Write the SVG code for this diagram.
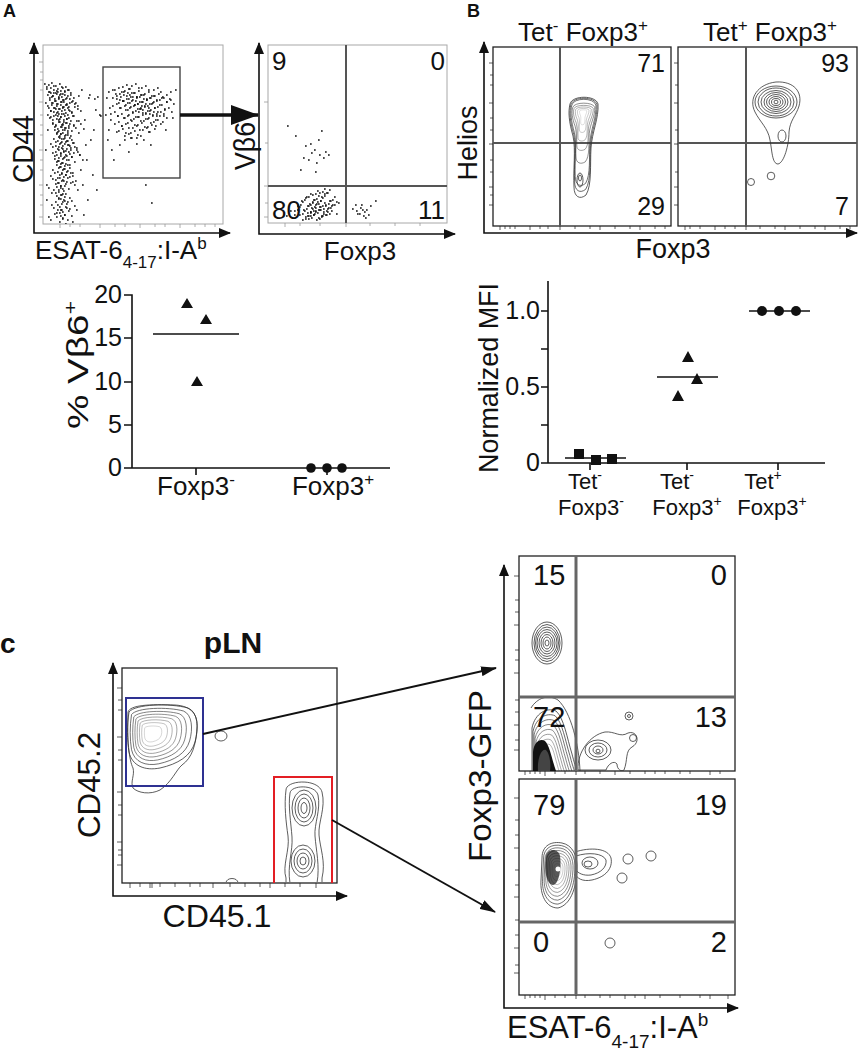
<svg xmlns="http://www.w3.org/2000/svg" xmlns:xlink="http://www.w3.org/1999/xlink" width="859" height="1050" viewBox="0 0 859 1050">
<style>
text{font-family:"Liberation Sans",Arial,Helvetica,sans-serif;fill:#111}
.b{font-weight:bold}
.ax{fill:none;stroke:#111;stroke-width:1.6}
.fg{fill:none;stroke:#a8a8a8;stroke-width:1}
.fr{fill:none;stroke:#222;stroke-width:1.3}
.q{stroke:#555;stroke-width:2}
.qc{stroke:#666;stroke-width:3}
.ct{fill:none;stroke:#333;stroke-width:0.8}
.ctn{fill:none;stroke:#333;stroke-width:0.8;vector-effect:non-scaling-stroke}
.dt{fill:none;stroke:#111;stroke-width:1.7}
.tk{fill:none;stroke:#999;stroke-width:0.8}
.tkd{fill:none;stroke:#333;stroke-width:0.8}
.ml{stroke:#111;stroke-width:1.6}
.sym{fill:#111}
</style>
<defs>
<marker id="ah" viewBox="0 0 12 10" refX="11" refY="5" markerWidth="12" markerHeight="10" markerUnits="userSpaceOnUse" orient="auto-start-reverse"><path d="M0,0L12,5L0,10Z" fill="#111"/></marker>
<marker id="big" viewBox="0 0 28 20" refX="27" refY="10" markerWidth="28" markerHeight="20" markerUnits="userSpaceOnUse" orient="auto"><path d="M0,0L28,10L0,20Z" fill="#111"/></marker>
<marker id="ca" viewBox="0 0 16 10" refX="15" refY="5" markerWidth="16" markerHeight="10" markerUnits="userSpaceOnUse" orient="auto"><path d="M0,0L16,5L0,10Z" fill="#111"/></marker>
<clipPath id="cA1"><rect x="43" y="45" width="180" height="179"/></clipPath>
<clipPath id="cA2"><rect x="268" y="45" width="179" height="178"/></clipPath>
<clipPath id="cC1"><rect x="122" y="668" width="215" height="214"/></clipPath>
<clipPath id="cC2a"><rect x="519" y="556" width="216" height="215"/></clipPath>
<clipPath id="cC2b"><rect x="519" y="779" width="216" height="216"/></clipPath>
<path id="colD" d="M46 87h1.7M50 88h1.7M53 86h1.7M57 89h1.7M61 87h1.7M64 91h1.7M48 92h1.7M55 93h1.7M59 95h1.7M67 90h1.7M52 96h1.7M62 94h1.7M70 93h1.7M49 98h1.7M54 99h1.7M58 97h1.7M63 100h1.7M66 98h1.7M71 102h1.7M51 103h1.7M56 104h1.7M60 102h1.7M65 105h1.7M68 107h1.7M53 108h1.7M58 109h1.7M62 108h1.7M74 104h1.7M47 106h1.7M64 110h1.7M69 111h1.7M57 112h1.7M50 111h1.7M77 106h1.7M55 115h1.7M60 117h1.7M63 114h1.7M66 119h1.7M52 120h1.7M58 122h1.7M61 125h1.7M65 123h1.7M68 126h1.7M54 127h1.7M57 129h1.7M62 130h1.7M70 121h1.7M73 116h1.7M49 118h1.7M59 119h1.7M64 128h1.7M67 131h1.7M56 133h1.7M60 134h1.7M75 128h1.7M80 124h1.7M58 137h1.7M61 139h1.7M64 136h1.7M66 141h1.7M55 142h1.7M59 144h1.7M62 146h1.7M67 145h1.7M70 148h1.7M57 149h1.7M63 151h1.7M60 153h1.7M65 155h1.7M68 152h1.7M54 156h1.7M58 158h1.7M62 159h1.7M71 157h1.7M73 143h1.7M76 150h1.7M52 147h1.7M66 160h1.7M69 138h1.7M79 155h1.7M56 162h1.7M60 164h1.7M64 166h1.7M58 168h1.7M62 170h1.7M66 172h1.7M54 173h1.7M59 175h1.7M63 177h1.7M67 178h1.7M61 181h1.7M57 183h1.7M65 184h1.7M60 186h1.7M69 168h1.7M72 176h1.7M52 179h1.7M62 189h1.7M58 190h1.7M74 185h1.7M55 193h1.7M60 195h1.7M64 197h1.7M58 199h1.7M62 202h1.7M57 205h1.7M66 204h1.7M53 208h1.7M61 210h1.7M59 213h1.7M64 215h1.7M56 217h1.7M62 219h1.7M50 220h1.7M68 211h1.7M71 201h1.7M48 188h1.7"/>
<path id="gateD" d="M112 90h1.7M118 88h1.7M123 92h1.7M128 89h1.7M133 93h1.7M138 91h1.7M143 95h1.7M148 92h1.7M153 96h1.7M158 94h1.7M163 98h1.7M120 97h1.7M126 99h1.7M131 101h1.7M136 98h1.7M141 102h1.7M146 100h1.7M151 104h1.7M156 101h1.7M161 105h1.7M116 104h1.7M124 106h1.7M129 108h1.7M134 105h1.7M139 109h1.7M144 107h1.7M149 111h1.7M154 108h1.7M160 112h1.7M166 95h1.7M170 100h1.7M114 112h1.7M121 114h1.7M127 116h1.7M132 113h1.7M137 117h1.7M142 115h1.7M147 119h1.7M152 116h1.7M157 120h1.7M163 114h1.7M118 122h1.7M125 124h1.7M131 121h1.7M136 126h1.7M141 123h1.7M146 128h1.7M151 125h1.7M122 129h1.7M128 134h1.7M134 131h1.7M140 136h1.7M132 97h1.7M140 95h1.7M150 98h1.7M127 93h1.7M142 110h1.7M137 104h1.7M145 104h1.7M153 112h1.7M122 101h1.7M116 96h1.7M126 85h1.7M135 84h1.7M145 86h1.7M157 88h1.7M168 108h1.7"/>
<path id="a2D" d="M300 205h1.7M304 200h1.7M308 197h1.7M312 203h1.7M316 199h1.7M320 201h1.7M324 196h1.7M328 204h1.7M332 200h1.7M306 209h1.7M310 212h1.7M314 207h1.7M318 210h1.7M322 206h1.7M326 211h1.7M330 208h1.7M334 205h1.7M302 214h1.7M308 216h1.7M313 215h1.7M317 213h1.7M321 217h1.7M325 215h1.7M329 214h1.7M305 219h1.7M311 218h1.7M319 219h1.7M315 194h1.7M322 192h1.7M327 193h1.7M297 210h1.7M310 205h1.7M318 204h1.7M323 209h1.7M313 211h1.7"/>
<path id="cbB" d="M129,712 C135,704 170,703 188,708 C198,712 199,728 195,742 C191,756 178,764 160,768 C145,771 132,766 129,752 C127,740 127,725 129,712 Z"/>
<path id="tdB" d="M570,104 C572,95 596,95 598,104 C599,118 592,132 591,148 C590,165 592,185 586,195 C580,200 574,197 574,187 C573,170 576,150 573,136 C569,122 568,112 570,104 Z"/>
<path id="c2l" d="M542,858 C542,845 552,841 562,843 C572,845 578,855 577,870 C576,890 570,905 558,908 C546,908 540,895 541,880 Z"/>
<path id="c2u" d="M532,771 L532,728 C535,713 547,707 556,711 C564,718 567,738 572,754 C574,762 576,768 577,771"/>
</defs>
<rect width="859" height="1050" fill="#fff"/>

<g id="labels">
<text x="3" y="17" font-size="18" class="b">A</text>
<text x="467" y="17" font-size="18" class="b">B</text>
<text x="0" y="653" font-size="28" class="b">c</text>
</g>

<g id="A1-scatter">
<rect class="fg" x="43" y="45" width="180" height="179"/>
<path class="tk" d="M39 62h4M40 72h3M40 80h3M40 90h3M39 102h4M40 115h3M40 125h3M40 135h3M39 150h4M40 160h3M40 170h3M39 185h4M40 195h3M40 205h3M39 217h4M60 224v4M70 224v3M80 224v3M100 224v4M115 224v3M125 224v3M140 224v4M155 224v3M165 224v3M180 224v4M195 224v3M205 224v3M215 224v3"/>
<path class="ax" d="M34,43 V233 H230" marker-start="url(#ah)" marker-end="url(#ah)"/>
<g clip-path="url(#cA1)">
<use href="#colD" class="dt"/>
<use href="#colD" class="dt" transform="translate(3,5)"/>
<use href="#colD" class="dt" transform="translate(-2,-3)"/>
<use href="#gateD" class="dt"/>
<use href="#gateD" class="dt" transform="translate(3,4)"/>
<use href="#gateD" class="dt" transform="translate(-4,2)"/>
<path class="dt" d="M84 120h1.7M88 98h1.7M90 140h1.7M86 160h1.7M92 175h1.7M95 110h1.7M97 97h1.7M82 185h1.7M87 200h1.7M96 190h1.7M93 130h1.7M99 115h1.7M85 145h1.7M89 95h1.7M94 99h1.7M100 116h1.7M78 96h1.7M81 90h1.7M76 210h1.7M80 170h1.7M83 215h1.7M72 222h1.7M46 200h1.7M45 150h1.7M47 130h1.7M110 120h1.7M108 130h1.7M116 132h1.7M124 140h1.7M130 138h1.7M119 145h1.7M136 144h1.7M111 150h1.7M148 132h1.7M155 126h1.7M162 122h1.7M170 92h1.7M175 90h1.7M106 98h1.7M109 108h1.7M113 160h1.7M145 185h1.7M151 203h1.7M128 152h1.7M150 145h1.7M105 115h1.7M107 140h1.7M165 130h1.7M172 118h1.7"/>
</g>
<rect x="103" y="67" width="77" height="111" fill="none" stroke="#444" stroke-width="1.4"/>
<text transform="translate(33,149) rotate(-90)" text-anchor="middle" font-size="29" textLength="68" lengthAdjust="spacingAndGlyphs">CD44</text>
<text x="35" y="259" font-size="26">ESAT-6<tspan dy="9" font-size="17">4-17</tspan><tspan dy="-9">:I-A</tspan><tspan dy="-10" font-size="17">b</tspan></text>
</g>

<g id="A2-scatter">
<rect class="fg" x="268" y="45" width="179" height="178"/>
<path class="tk" d="M264 102h4M265 143h3M264 186h4M265 203h3M264 217h4M285 223v4M300 223v3M320 223v3M346 223v4M370 223v3M395 223v3M420 223v3"/>
<path class="ax" d="M259,43 V234 H455" marker-start="url(#ah)" marker-end="url(#ah)"/>
<line class="q" x1="346" y1="45" x2="346" y2="223" stroke-width="1.6"/>
<line class="q" x1="268" y1="186" x2="447" y2="186" stroke-width="1.6"/>
<g clip-path="url(#cA2)">
<use href="#a2D" class="dt"/>
<use href="#a2D" class="dt" transform="translate(2,-3)"/>
<use href="#a2D" class="dt" transform="translate(-3,1)"/>
<path class="dt" d="M294 215h1.7M290 211h1.7M286 216h1.7M336 214h1.7M338 203h1.7M287 126h1.7M295 136h1.7M305 146h1.7M310 144h1.7M318 140h1.7M321 131h1.7M314 150h1.7M319 155h1.7M325 152h1.7M308 160h1.7M300 170h1.7M316 163h1.7M323 158h1.7M328 155h1.7M315 172h1.7M303 158h1.7M311 153h1.7M352 209h1.7M356 211h1.7M360 208h1.7M364 212h1.7M366 210h1.7M368 215h1.7M363 216h1.7M359 214h1.7M370 206h1.7M375 201h1.7M355 205h1.7M362 210h1.7M365 218h1.7M357 214h1.7M361 205h1.7"/>
</g>
<text x="272" y="70" font-size="26">9</text>
<text x="445" y="70" font-size="26" text-anchor="end">0</text>
<text x="272" y="219" font-size="26">80</text>
<text x="445" y="219" font-size="26" text-anchor="end">11</text>
<text transform="translate(255,146) rotate(-90)" text-anchor="middle" font-size="29" textLength="48" lengthAdjust="spacingAndGlyphs">Vβ6</text>
<text x="360" y="260" font-size="26" text-anchor="middle">Foxp3</text>
</g>

<g id="A-chart">
<path class="ax" d="M124,295 H132 V468 H390 M124,338 H132 M124,382 H132 M124,425 H132 M124,468 H132 M196,468 V475 M327,468 V475"/>
<g font-size="25" text-anchor="end">
<text x="122" y="303">20</text>
<text x="122" y="346">15</text>
<text x="122" y="390">10</text>
<text x="122" y="433">5</text>
<text x="122" y="476">0</text>
</g>
<path class="sym" d="M187,298 L193,308 L181,308 Z M206,314 L212,324 L200,324 Z M197,376 L203,386 L191,386 Z"/>
<line class="ml" x1="153" y1="334" x2="239" y2="334"/>
<circle class="sym" cx="311" cy="468" r="4.8"/>
<circle class="sym" cx="327" cy="468" r="4.8"/>
<circle class="sym" cx="342" cy="468" r="4.8"/>
<text transform="translate(88,365) rotate(-90)" text-anchor="middle" font-size="30" textLength="128" lengthAdjust="spacingAndGlyphs">% Vβ6<tspan dy="-11" font-size="18">+</tspan></text>
<text x="196" y="495" font-size="26" text-anchor="middle">Foxp3<tspan dy="-10" font-size="17">-</tspan></text>
<text x="333" y="495" font-size="26" text-anchor="middle">Foxp3<tspan dy="-10" font-size="17">+</tspan></text>
</g>

<g id="B-plots">
<text x="583" y="41" font-size="26" text-anchor="middle">Tet<tspan dy="-10" font-size="17">-</tspan><tspan dy="10"> Foxp3</tspan><tspan dy="-10" font-size="17">+</tspan></text>
<text x="770" y="41" font-size="26" text-anchor="middle">Tet<tspan dy="-10" font-size="17">+</tspan><tspan dy="10"> Foxp3</tspan><tspan dy="-10" font-size="17">+</tspan></text>
<path class="tkd" d="M489 63h4M490 75h3M490 85h3M489 103h4M490 118h3M490 130h3M489 144h4M490 160h3M490 172h3M489 187h4M490 195h3M489 205h4M674 63h4M675 85h3M674 103h4M675 130h3M674 144h4M675 172h3M674 187h4M674 205h4M500 226v4M505 226v3M510 226v3M515 226v3M530 226v4M540 226v3M548 226v3M560 226v4M575 226v3M590 226v3M600 226v4M615 226v3M630 226v3M640 226v4M655 226v3M665 226v3M685 226v4M690 226v3M700 226v3M715 226v4M725 226v3M735 226v3M746 226v4M760 226v3M775 226v3M785 226v4M800 226v3M815 226v3M825 226v4M840 226v3M850 226v3"/>
<rect class="fr" x="493" y="47" width="178" height="179"/>
<rect class="fr" x="678" y="47" width="179" height="179"/>
<path class="ax" d="M484,42 V233 H857" marker-start="url(#ah)" marker-end="url(#ah)"/>
<line class="q" x1="560" y1="47" x2="560" y2="226"/>
<line class="q" x1="493" y1="143" x2="671" y2="143"/>
<line class="q" x1="746" y1="47" x2="746" y2="226"/>
<line class="q" x1="678" y1="143" x2="857" y2="143"/>
<g id="B1-contours">
<use href="#tdB" class="ctn"/>
<use href="#tdB" class="ctn" transform="translate(583,112) scale(0.93) translate(-583,-112)"/>
<use href="#tdB" class="ctn" transform="translate(583,112) scale(0.86) translate(-583,-112)"/>
<use href="#tdB" class="ctn" transform="translate(583,112) scale(0.78,0.6) translate(-583,-112)"/>
<use href="#tdB" class="ctn" transform="translate(583,112) scale(0.68,0.45) translate(-583,-112)"/>
<use href="#tdB" class="ctn" transform="translate(583,112) scale(0.55,0.34) translate(-583,-112)"/>
<use href="#tdB" class="ctn" transform="translate(583,112) scale(0.4,0.24) translate(-583,-112)"/>
<use href="#tdB" class="ctn" transform="translate(583,112) scale(0.25,0.15) translate(-583,-112)"/>
<ellipse class="ct" cx="580" cy="180" rx="3" ry="7"/>
<ellipse class="ct" cx="580" cy="178" rx="1.5" ry="3"/>
</g>
<g id="B2-contours">
<path class="ct" d="M755,112 C748,98 758,84 776,82 C794,81 803,92 799,106 C796,116 790,120 789,132 C789,145 784,163 778,164 C772,164 772,150 770,140 C768,128 760,122 755,112 Z"/>
<ellipse class="ct" cx="776" cy="102" rx="21" ry="16"/>
<ellipse class="ct" cx="776" cy="102" rx="18" ry="14"/>
<ellipse class="ct" cx="776" cy="102" rx="15" ry="11.5"/>
<ellipse class="ct" cx="776" cy="102" rx="12" ry="9.5"/>
<ellipse class="ct" cx="776" cy="102" rx="9.5" ry="7.5"/>
<ellipse class="ct" cx="776" cy="102" rx="7" ry="5.5"/>
<ellipse class="ct" cx="776" cy="102" rx="4.5" ry="3.5"/>
<ellipse class="ct" cx="776" cy="102" rx="2" ry="1.8"/>
<ellipse class="ct" cx="782" cy="136" rx="4" ry="6"/>
<circle class="ct" cx="751" cy="182" r="3.5"/>
<circle class="ct" cx="771" cy="176" r="3.8"/>
</g>
<g font-size="25" text-anchor="end">
<text x="665" y="72">71</text>
<text x="665" y="215">29</text>
<text x="849" y="72">93</text>
<text x="849" y="215">7</text>
</g>
<text transform="translate(477,143) rotate(-90)" text-anchor="middle" font-size="27" textLength="75" lengthAdjust="spacingAndGlyphs">Helios</text>
<text x="673" y="258" font-size="27" text-anchor="middle">Foxp3</text>
</g>

<g id="B-chart">
<path class="ax" d="M548,281 V463 H825 M541,311 H548 M541,349 H548 M541,387 H548 M541,425 H548 M541,463 H548 M590,463 V470 M687,463 V470 M778,463 V470"/>
<g font-size="25" text-anchor="end">
<text x="540" y="319">1.0</text>
<text x="540" y="395">0.5</text>
<text x="540" y="471">0</text>
</g>
<path class="sym" d="M574,449h10v10h-10z M591,455h10v10h-10z M607,454h10v10h-10z"/>
<line class="ml" x1="565" y1="458" x2="626" y2="458"/>
<path class="sym" d="M688,351 L694,362 L682,362 Z M697,373 L703,384 L691,384 Z M678,390 L684,401 L672,401 Z"/>
<line class="ml" x1="657" y1="377" x2="718" y2="377"/>
<line class="ml" x1="749" y1="311" x2="810" y2="311"/>
<circle class="sym" cx="762" cy="311" r="5"/>
<circle class="sym" cx="779" cy="311" r="5"/>
<circle class="sym" cx="796" cy="311" r="5"/>
<text transform="translate(498,378) rotate(-90)" text-anchor="middle" font-size="27" textLength="190" lengthAdjust="spacingAndGlyphs">Normalized MFI</text>
<g font-size="22" text-anchor="middle">
<text x="585" y="489">Tet<tspan dy="-9" font-size="14">-</tspan></text>
<text x="591" y="515">Foxp3<tspan dy="-9" font-size="14">-</tspan></text>
<text x="677" y="489">Tet<tspan dy="-9" font-size="14">-</tspan></text>
<text x="687" y="515">Foxp3<tspan dy="-9" font-size="14">+</tspan></text>
<text x="763" y="489">Tet<tspan dy="-9" font-size="14">+</tspan></text>
<text x="772" y="515">Foxp3<tspan dy="-9" font-size="14">+</tspan></text>
</g>
</g>

<g id="C1-plot">
<text x="233" y="653" font-size="30" class="b" text-anchor="middle">pLN</text>
<path class="tkd" d="M117 688h5M118 700h4M118 710h4M117 737h5M118 750h4M118 760h4M117 792h5M118 805h4M118 815h4M117 842h5M118 850h4M118 855h4M117 865h5M130 883v5M140 883v4M150 883v5M152 883v5M160 883v4M175 883v4M190 883v4M200 883v4M213 883v5M230 883v4M245 883v4M260 883v4M270 883v5M285 883v4M300 883v4M316 883v5"/>
<rect class="fr" x="122" y="668" width="215" height="215"/>
<path class="ax" d="M113,663 V896 H347" marker-start="url(#ah)" marker-end="url(#ah)"/>
<g clip-path="url(#cC1)">
<path class="ct" d="M128,712 C130,705 150,704 175,705 C192,706 198,715 197,728 C196,745 192,758 182,765 C176,770 172,782 160,790 C150,795 138,793 133,788 C130,782 135,775 133,768 C129,760 127,740 128,712 Z"/>
<use href="#cbB" class="ctn"/>
<use href="#cbB" class="ctn" transform="translate(150,733) scale(0.88) translate(-150,-733)"/>
<use href="#cbB" class="ctn" transform="translate(150,733) scale(0.77) translate(-150,-733)"/>
<use href="#cbB" class="ctn" transform="translate(150,733) scale(0.67) translate(-150,-733)"/>
<use href="#cbB" class="ctn" transform="translate(150,733) scale(0.57) translate(-150,-733)"/>
<use href="#cbB" class="ctn" transform="translate(150,733) scale(0.47) translate(-150,-733)"/>
<use href="#cbB" class="ctn" transform="translate(150,733) scale(0.37) translate(-150,-733)"/>
<use href="#cbB" class="ctn" transform="translate(150,733) scale(0.25) translate(-150,-733)"/>
<ellipse class="ct" cx="221" cy="736" rx="6" ry="5"/>
<path class="ct" d="M286,790 C286,780 318,778 322,792 C326,808 318,822 319,835 C320,848 326,862 322,878 L322,883 L286,883 L286,878 C282,866 290,850 288,836 C286,822 284,805 286,790 Z"/>
<path class="ct" d="M290,793 C291,785 315,784 318,795 C321,810 314,824 315,836 C316,850 320,866 317,883 L290,883 C287,866 293,851 292,837 C291,823 288,806 290,793 Z"/>
<ellipse class="ct" cx="304" cy="808" rx="12" ry="18"/>
<ellipse class="ct" cx="304" cy="808" rx="9" ry="14"/>
<ellipse class="ct" cx="304" cy="808" rx="6" ry="10"/>
<ellipse class="ct" cx="304" cy="808" rx="3" ry="5.5"/>
<ellipse class="ct" cx="303" cy="861" rx="12" ry="16"/>
<ellipse class="ct" cx="303" cy="861" rx="9" ry="12"/>
<ellipse class="ct" cx="303" cy="861" rx="6" ry="8"/>
<ellipse class="ct" cx="303" cy="861" rx="3" ry="4"/>
<path class="ct" d="M226,883 C226,877 238,877 238,883"/>
</g>
<rect x="126" y="698" width="77" height="88" fill="none" stroke="#2e3192" stroke-width="2"/>
<path d="M274,883 V777 H332 V883" fill="none" stroke="#e31e24" stroke-width="2"/>
<text transform="translate(100,785) rotate(-90)" text-anchor="middle" font-size="31" textLength="106" lengthAdjust="spacingAndGlyphs">CD45.2</text>
<text x="217" y="927" font-size="31" text-anchor="middle" textLength="109" lengthAdjust="spacingAndGlyphs">CD45.1</text>
</g>

<g id="C2-upper">
<path class="tkd" d="M514 576h5M515 600h4M515 612h4M514 625h5M515 650h4M515 660h4M514 673h5M515 700h4M515 712h4M514 725h5M515 740h4M514 750h5M525 771v4M530 771v3M535 771v3M540 771v3M545 771v5M555 771v3M565 771v3M576 771v4M585 771v3M600 771v3M615 771v4M630 771v3M645 771v3M655 771v3M665 771v3M680 771v3M690 771v3M710 771v4M720 771v3"/>
<rect class="fr" x="519" y="556" width="216" height="215"/>
<g clip-path="url(#cC2a)">
<ellipse class="ct" cx="547" cy="643" rx="15" ry="21"/>
<ellipse class="ct" cx="547" cy="643" rx="13" ry="18.5"/>
<ellipse class="ct" cx="547" cy="643" rx="11.5" ry="16"/>
<ellipse class="ct" cx="547" cy="643" rx="10" ry="13.5"/>
<ellipse class="ct" cx="547" cy="643" rx="8" ry="11"/>
<ellipse class="ct" cx="547" cy="643" rx="6" ry="8.5"/>
<ellipse class="ct" cx="547" cy="643" rx="4" ry="6"/>
<ellipse class="ct" cx="547" cy="643" rx="2" ry="3"/>
<use href="#c2u" class="ctn"/>
<use href="#c2u" class="ctn" transform="translate(545,771) scale(0.92) translate(-545,-771)"/>
<use href="#c2u" class="ctn" transform="translate(545,771) scale(0.84) translate(-545,-771)"/>
<use href="#c2u" class="ctn" transform="translate(545,771) scale(0.76) translate(-545,-771)"/>
<use href="#c2u" class="ctn" transform="translate(545,771) scale(0.68) translate(-545,-771)"/>
<use href="#c2u" class="ctn" transform="translate(545,771) scale(0.6) translate(-545,-771)"/>
<use href="#c2u" class="ctn" transform="translate(545,771) scale(0.52) translate(-545,-771)"/>
<use href="#c2u" class="ctn" transform="translate(545,771) scale(0.44) translate(-545,-771)"/>
<path d="M533,771 L533,752 C534,742 540,738 545,741 C550,746 552,760 556,771 Z" fill="#111"/>
<path d="M538,771 C537,760 541,748 546,750 C550,754 551,765 550,771 Z" fill="#444"/>
<path class="ct" d="M580,771 C579,745 571,712 558,700 C548,694 537,698 531,708"/>
<path class="ct" d="M578,770 C577,752 590,735 605,732 C615,731 620,738 628,733 C637,730 641,742 632,747 C625,751 628,760 624,770 C622,772 617,770 617,764 C614,760 608,764 606,770 Z"/>
<ellipse class="ct" cx="598" cy="750" rx="13" ry="10"/>
<ellipse class="ct" cx="598" cy="750" rx="9" ry="7"/>
<ellipse class="ct" cx="598" cy="750" rx="5" ry="4"/>
<ellipse class="ct" cx="598" cy="751" rx="2" ry="1.8"/>
<circle class="ct" cx="629" cy="716" r="4"/>
<circle class="ct" cx="629" cy="716" r="1.5"/>
<circle class="ct" cx="633" cy="738" r="3.5"/>
</g>
<line class="qc" x1="576" y1="556" x2="576" y2="771"/>
<line class="qc" x1="519" y1="697" x2="735" y2="697"/>
<g font-size="29">
<text x="533" y="585">15</text>
<text x="727" y="585" text-anchor="end">0</text>
<text x="533" y="727">72</text>
<text x="727" y="727" text-anchor="end">13</text>
</g>
</g>

<g id="C2-lower">
<path class="tkd" d="M514 798h5M515 820h4M515 835h4M514 848h5M515 870h4M515 885h4M514 897h5M515 920h4M515 935h4M514 948h5M515 965h4M514 973h5M525 995v4M530 995v3M535 995v3M540 995v3M545 995v5M555 995v3M565 995v3M576 995v4M585 995v3M600 995v3M610 995v3M625 995v4M635 995v3M645 995v4M660 995v3M680 995v3M700 995v3M710 995v4M728 995v4"/>
<rect class="fr" x="519" y="779" width="216" height="216"/>
<g clip-path="url(#cC2b)">
<use href="#c2l" class="ctn"/>
<use href="#c2l" class="ctn" transform="translate(557,869) scale(0.9) translate(-557,-869)"/>
<use href="#c2l" class="ctn" transform="translate(557,869) scale(0.8) translate(-557,-869)"/>
<use href="#c2l" class="ctn" transform="translate(557,869) scale(0.7) translate(-557,-869)"/>
<use href="#c2l" class="ctn" transform="translate(557,869) scale(0.6) translate(-557,-869)"/>
<use href="#c2l" class="ctn" transform="translate(557,869) scale(0.5) translate(-557,-869)"/>
<use href="#c2l" class="ctn" transform="translate(557,869) scale(0.4) translate(-557,-869)"/>
<use href="#c2l" class="ctn" transform="translate(557,869) scale(0.3) translate(-557,-869)"/>
<use href="#c2l" class="ctn" transform="translate(557,869) scale(0.2) translate(-557,-869)"/>
<path d="M546,856 C548,848 558,848 560,856 C562,870 558,885 553,885 C546,884 544,870 546,856 Z" fill="#111" opacity="0.7"/>
<circle cx="558" cy="869" r="2.5" fill="#fff"/>
<path class="ct" d="M575,852 C590,847 608,848 611,858 C613,868 606,877 592,880 C582,882 577,878 575,874"/>
<path class="ct" d="M576,856 C588,852 603,853 606,860 C607,867 601,873 591,875 C583,876 578,873 576,870"/>
<ellipse class="ct" cx="590" cy="863" rx="8" ry="6"/>
<ellipse class="ct" cx="588" cy="864" rx="4" ry="3"/>
<circle class="ct" cx="628" cy="859" r="5"/>
<circle class="ct" cx="651" cy="856" r="5"/>
<circle class="ct" cx="622" cy="878" r="5"/>
<circle class="ct" cx="610" cy="943" r="5"/>
</g>
<line class="qc" x1="576" y1="779" x2="576" y2="995"/>
<line class="qc" x1="519" y1="922" x2="735" y2="922"/>
<g font-size="29">
<text x="533" y="815">79</text>
<text x="727" y="815" text-anchor="end">19</text>
<text x="533" y="952">0</text>
<text x="727" y="952" text-anchor="end">2</text>
</g>
<path class="ax" d="M504,565 V1008 H738" marker-start="url(#ah)" marker-end="url(#ah)"/>
<text transform="translate(491,776) rotate(-90)" text-anchor="middle" font-size="31" textLength="172" lengthAdjust="spacingAndGlyphs">Foxp3-GFP</text>
<text x="507" y="1038" font-size="31">ESAT-6<tspan dy="10" font-size="19">4-17</tspan><tspan dy="-10">:I-A</tspan><tspan dy="-12" font-size="19">b</tspan></text>
</g>

<g id="connectors">
<line x1="180" y1="115" x2="258" y2="115" stroke="#111" stroke-width="3.5" marker-end="url(#big)"/>
<line x1="203" y1="734" x2="496" y2="668" stroke="#111" stroke-width="2" marker-end="url(#ca)"/>
<line x1="332" y1="820" x2="495" y2="912" stroke="#111" stroke-width="2" marker-end="url(#ca)"/>
</g>
</svg>
